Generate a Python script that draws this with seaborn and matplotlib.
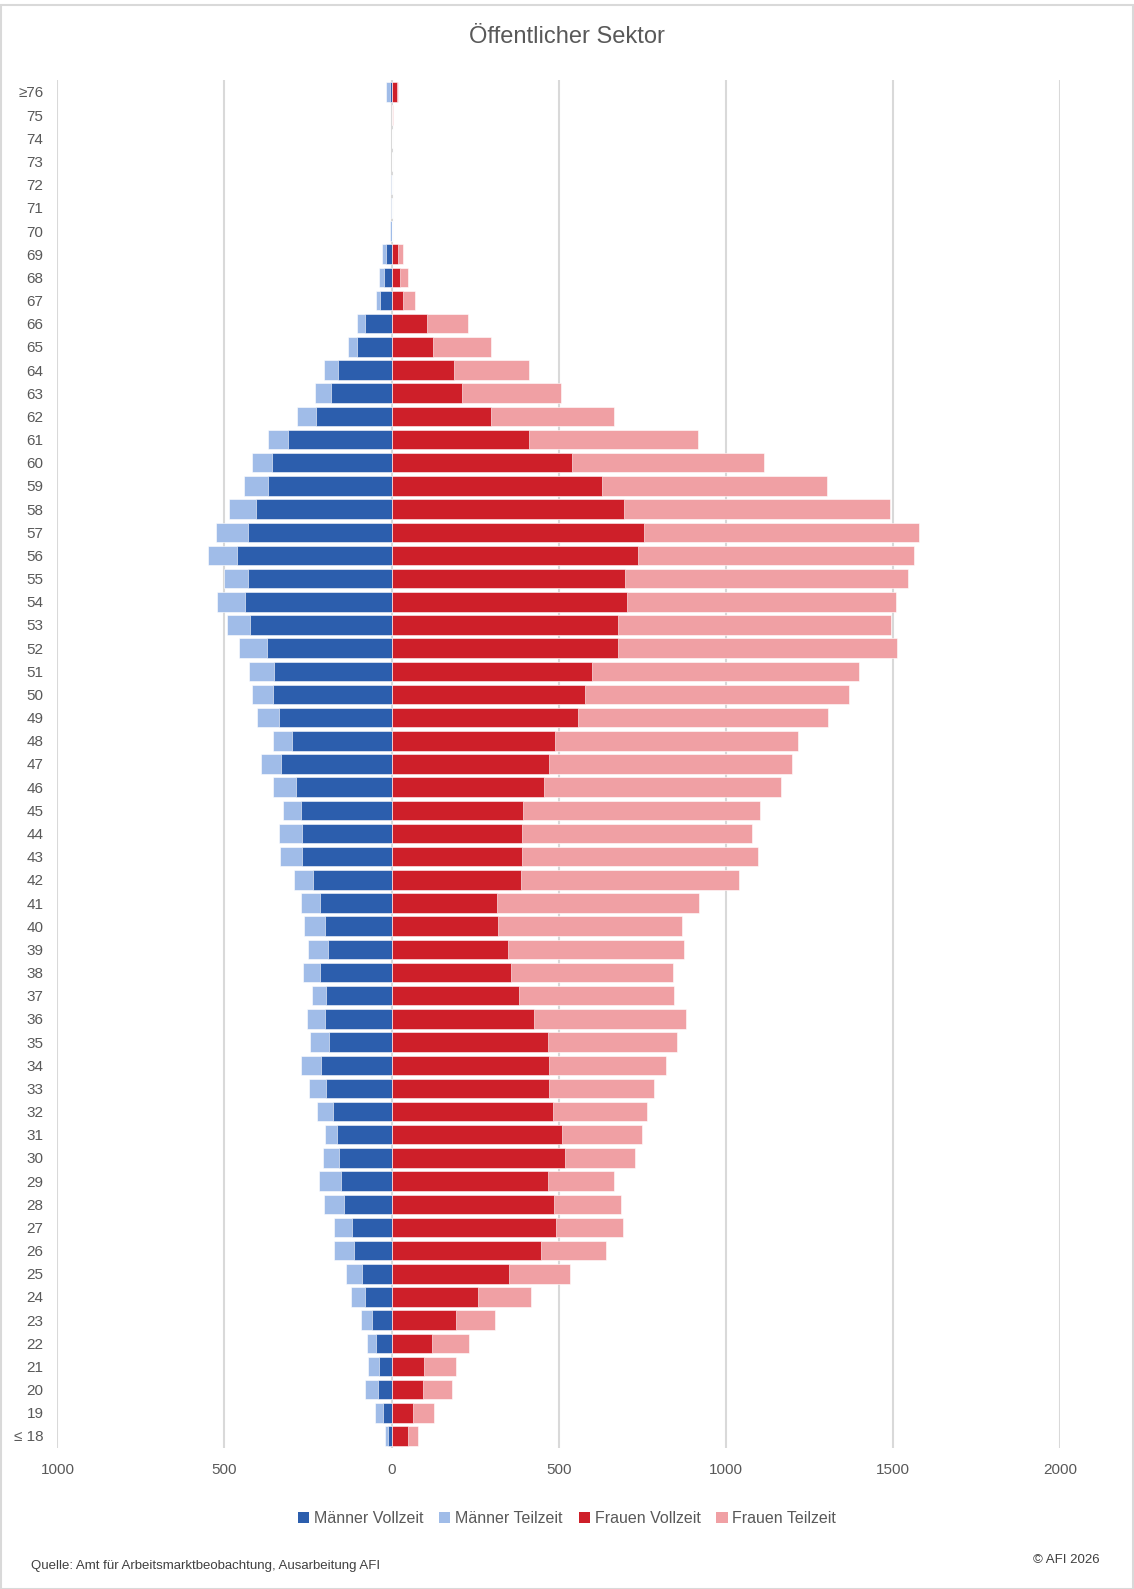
import numpy as np
import pandas as pd
import matplotlib
matplotlib.use("Agg")
import matplotlib.pyplot as plt
import seaborn as sns
from matplotlib.patches import Patch, Rectangle
from matplotlib.ticker import FixedLocator, FuncFormatter

# age groups, top to bottom
ages = ["≥76"] + [str(a) for a in range(75, 18, -1)] + ["≤ 18"]

men_vollzeit = [6, 0, 0, 0, 0, 0, 0, 18, 23, 34, 80, 102, 160, 180, 226, 309, 358, 369, 407, 431,
                462, 429, 440, 423, 374, 352, 355, 338, 298, 331, 287, 271, 268, 268, 236, 214, 198,
                190, 214, 195, 200, 188, 211, 195, 174, 163, 158, 152, 141, 117, 111, 87, 79, 57,
                46, 38, 41, 25, 10]
men_teilzeit = [12, 0, 0, 0, 3, 2, 5, 11, 14, 13, 22, 28, 42, 50, 56, 60, 60, 73, 79, 93,
                86, 73, 81, 68, 82, 74, 63, 66, 57, 60, 68, 54, 70, 65, 57, 57, 65,
                61, 51, 43, 54, 56, 60, 52, 48, 35, 46, 66, 60, 54, 60, 49, 41, 35,
                27, 33, 38, 24, 10]
women_vollzeit = [16, 0, 0, 0, 0, 0, 0, 18, 24, 35, 106, 125, 187, 212, 297, 410, 541, 631, 696, 755,
                  739, 698, 704, 677, 679, 601, 579, 559, 489, 472, 456, 393, 391, 391, 386, 316, 318,
                  350, 357, 380, 426, 469, 472, 472, 483, 509, 519, 467, 486, 492, 448, 352, 260, 193,
                  122, 96, 93, 64, 48]
women_teilzeit = [4, 5, 0, 0, 0, 0, 0, 16, 24, 36, 124, 172, 223, 294, 368, 507, 575, 671, 795, 824,
                  826, 848, 805, 818, 833, 798, 790, 748, 726, 725, 710, 710, 688, 706, 653, 604, 552,
                  526, 485, 466, 455, 386, 349, 312, 283, 241, 209, 200, 202, 200, 194, 183, 158, 117,
                  110, 96, 88, 62, 32]

series_names = ["Männer Vollzeit", "Männer Teilzeit", "Frauen Vollzeit", "Frauen Teilzeit"]
colors = ["#2C5EAD", "#A0BCE8", "#CE1F29", "#F0A0A4"]
x_ticks = [-1000, -500, 0, 500, 1000, 1500, 2000]

df = pd.DataFrame({
    "age": ages,
    "mv": men_vollzeit,
    "mt": men_teilzeit,
    "fv": women_vollzeit,
    "ft": women_teilzeit,
})
df["men_total"] = -(df["mv"] + df["mt"])
df["men_vz"] = -df["mv"]
df["women_total"] = df["fv"] + df["ft"]

sns.set_style("white")
plt.rcParams["font.family"] = ["Liberation Sans Narrow", "Liberation Sans", "DejaVu Sans"]
grey = "#595959"

fig = plt.figure(figsize=(11.34, 15.89), dpi=100)
ax = fig.add_axes([0.0506, 0.089, 0.884, 0.8604])

bar_kw = dict(orient="h", width=0.84, edgecolor="white", linewidth=0.4, saturation=1, ax=ax)
sns.barplot(data=df, x="men_total", y="age", order=ages, color=colors[1], **bar_kw)
sns.barplot(data=df, x="men_vz", y="age", order=ages, color=colors[0], **bar_kw)
sns.barplot(data=df, x="women_total", y="age", order=ages, color=colors[3], **bar_kw)
sns.barplot(data=df, x="fv", y="age", order=ages, color=colors[2], **bar_kw)
for p in ax.patches:
    p.set_zorder(3)

# vertical grid lines behind the bars
ax.vlines(x_ticks, -0.5, len(ages) - 0.5, colors="#d9d9d9", linewidth=1.5, zorder=0.5)

ax.set_xlim(-1000, 2000)
ax.set_ylim(len(ages) - 0.5, -0.5)
ax.xaxis.set_major_locator(FixedLocator(x_ticks))
ax.xaxis.set_major_formatter(FuncFormatter(lambda v, p: f"{abs(int(v))}"))
ax.grid(False)
for s in ax.spines.values():
    s.set_visible(False)
ax.set_xlabel("")
ax.set_ylabel("")
ax.tick_params(axis="x", length=0, pad=11, labelsize=11, labelcolor=grey)
ax.tick_params(axis="y", length=0, pad=10, labelsize=11, labelcolor=grey)

fig.text(0.5, 0.977, "Öffentlicher Sektor", ha="center", va="center", fontsize=17, color=grey)

handles = [Patch(facecolor=c, edgecolor="none", label=n) for c, n in zip(colors, series_names)]
fig.legend(handles=handles, loc="center", bbox_to_anchor=(0.5, 0.0445), ncol=4, frameon=False,
           fontsize=11.5, handlelength=0.7, handleheight=0.7, handletextpad=0.3, columnspacing=1.0,
           labelcolor=grey)

fig.text(0.027, 0.0145, "Quelle: Amt für Arbeitsmarktbeobachtung, Ausarbeitung AFI", ha="left",
         va="center", fontsize=9.5, color="#404040")
fig.text(0.97, 0.018, "© AFI 2026", ha="right", va="center", fontsize=9.5, color="#404040")

fig.patches.append(Rectangle((0.001, 0.0), 0.998, 0.997, transform=fig.transFigure, fill=False,
                             edgecolor="#d9d9d9", linewidth=1.5))

fig.savefig("out.png", dpi=100)
